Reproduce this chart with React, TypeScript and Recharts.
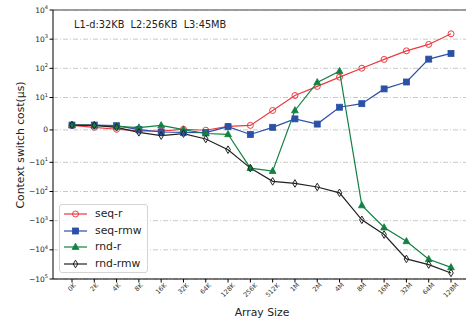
import { LineChart, Line, XAxis, YAxis, CartesianGrid, ReferenceLine } from "recharts";

// array sizes on the x axis
const sizes = ['0K', '2K', '4K', '8K', '16K', '32K', '64K', '128K', '256K', '512K', '1M', '2M', '4M', '8M', '16M', '32M', '64M', '128M'];

// context switch cost in µs
const seqR = [1.4, 0.8, 0.2, -0.3, -0.4, 0.2, -0.1, 1.1, 1.4, 6.0, 11.7, 24, 50, 101, 202, 398, 660, 1530];
const seqRmw = [1.5, 1.5, 1.3, 0.1, -0.65, -0.75, -0.85, 1.0, -1.4, 0.8, 3.4, 1.8, 7.0, 8.1, 19.7, 34, 207, 324];
const rndR = [1.5, 1.4, 1.1, 0.7, 1.4, 0.1, -1.1, -1.35, -15.8, -20, 6.0, 33, 80, -300, -1720, -5100, -21000, -40000];
const rndRmw = [1.5, 1.4, 0.8, -0.75, -1.75, -1.15, -2.8, -6.1, -15.8, -45, -53, -70, -111, -935, -3000, -20500, -32000, -62000];

const yTickValues = [1e4, 1e3, 1e2, 10, 0, -10, -1e2, -1e3, -1e4, -1e5];

// symlog like matplotlib: linthresh=10, linscale=1
const LINTHRESH = 10;
const LINSCALE = 1 / (1 - 1 / 10);
const symlog = (v: number) => {
  const a = Math.abs(v);
  if (a <= LINTHRESH) return (v / LINTHRESH) * LINSCALE;
  return Math.sign(v) * (Math.log10(a / LINTHRESH) + LINSCALE);
};

const series = [
  { key: 'seqR', name: 'seq-r', values: seqR, color: '#ec3a40', marker: 'circle' },
  { key: 'seqRmw', name: 'seq-rmw', values: seqRmw, color: '#2b50a6', marker: 'square' },
  { key: 'rndR', name: 'rnd-r', values: rndR, color: '#128242', marker: 'triangle' },
  { key: 'rndRmw', name: 'rnd-rmw', values: rndRmw, color: '#222222', marker: 'diamond' },
];

const data = sizes.map((s, i) => {
  const row: any = { size: s };
  series.forEach(sr => { row[sr.key] = symlog(sr.values[i]); });
  return row;
});

const FONT = '"DejaVu Sans", sans-serif';

function Marker({ type, cx, cy, color }: any) {
  if (cx == null || cy == null) return null;
  if (type === 'circle') {
    return <circle cx={cx} cy={cy} r={3} fill="none" stroke={color} strokeWidth={1} />;
  }
  if (type === 'square') {
    return <rect x={cx - 3} y={cy - 3} width={6} height={6} fill={color} stroke={color} strokeWidth={0.8} />;
  }
  if (type === 'triangle') {
    return <path d={`M${cx},${cy - 3.8} L${cx + 3.4},${cy + 2.4} L${cx - 3.4},${cy + 2.4} Z`} fill={color} stroke={color} strokeWidth={0.8} />;
  }
  return <path d={`M${cx},${cy - 3.8} L${cx + 2.3},${cy} L${cx},${cy + 3.8} L${cx - 2.3},${cy} Z`} fill="none" stroke={color} strokeWidth={1} />;
}

const YTick = ({ x, y, payload }: any) => {
  const v = yTickValues.find(t => Math.abs(symlog(t) - payload.value) < 1e-6);
  if (v === undefined) return null;
  if (v === 0) {
    return <text x={x} y={y} textAnchor="end" dominantBaseline="central" fontSize={7.5} fontFamily={FONT} fill="#222">0</text>;
  }
  const exp = Math.round(Math.log10(Math.abs(v)));
  return (
    <text x={x} y={y} textAnchor="end" dominantBaseline="central" fontSize={7.5} fontFamily={FONT} fill="#222">
      {v < 0 ? '\u221210' : '10'}
      <tspan dy={-3} fontSize={5}>{exp}</tspan>
    </text>
  );
};

const XTick = ({ x, y, payload }: any) => {
  const fs = 6.5;
  const w = String(payload.value).length * 0.66 * fs;
  const cy = y + (w + 0.75 * fs) * 0.3535;
  return (
    <g transform={`translate(${x},${cy}) rotate(-45)`}>
      <text x={0} y={0} textAnchor="middle" dominantBaseline="central" fontSize={fs} fontFamily={FONT} fill="#333">
        {payload.value}
      </text>
    </g>
  );
};

const LegendBox = () => (
  <div style={{
    position: 'absolute', left: 59, top: 204,
    width: 89, height: 69, boxSizing: 'border-box', border: '1px solid #d4d4d4', borderRadius: 3,
    background: 'rgba(255,255,255,0.85)', paddingTop: 1, fontFamily: FONT, fontSize: 10.8, color: '#222',
  }}>
    {series.map(sr => (
      <div key={sr.key} style={{ display: 'flex', alignItems: 'center', height: 16.5, lineHeight: '16.5px' }}>
        <svg width={32} height={16} style={{ marginLeft: 3, flexShrink: 0 }}>
          <line x1={1} y1={8} x2={24} y2={8} stroke={sr.color} strokeWidth={1.2} />
          <Marker type={sr.marker} cx={12.5} cy={8} color={sr.color} />
        </svg>
        <span>{sr.name}</span>
      </div>
    ))}
  </div>
);

export default function App() {
  const yMin = symlog(-1e5);
  const yMax = symlog(1e4);
  return (
    <div style={{ position: 'absolute', left: 0, top: 0, width: 466, height: 322, overflow: 'hidden', background: '#fff' }}>
      <LineChart width={480} height={322} data={data} margin={{ top: 10, right: 10, bottom: 0, left: 0 }}>
        <CartesianGrid vertical={false} stroke="#c8c8c8" strokeDasharray="5 2 1 2" />
        <ReferenceLine y={yMax} stroke="#808080" strokeWidth={1.6} />
        <XAxis
          dataKey="size"
          height={43}
          padding={{ left: 19, right: 19 }}
          tick={<XTick />}
          tickSize={3.5}
          tickMargin={0}
          interval={0}
          axisLine={{ stroke: '#000', strokeWidth: 1 }}
          tickLine={{ stroke: '#000' }}
        />
        <YAxis
          type="number"
          width={53}
          domain={[yMin, yMax]}
          ticks={yTickValues.map(symlog)}
          allowDataOverflow
          interval={0}
          tick={<YTick />}
          tickSize={3.5}
          tickMargin={1.5}
          axisLine={{ stroke: '#000', strokeWidth: 1 }}
          tickLine={{ stroke: '#000' }}
        />
        {series.map(sr => (
          <Line
            key={sr.key}
            dataKey={sr.key}
            name={sr.name}
            stroke={sr.color}
            strokeWidth={1.2}
            isAnimationActive={false}
            dot={(p: any) => <Marker key={`${sr.key}-${p.index}`} type={sr.marker} cx={p.cx} cy={p.cy} color={sr.color} />}
            activeDot={false}
          />
        ))}
      </LineChart>
      <LegendBox />
      <div style={{ position: 'absolute', left: 74, top: 24, transform: 'translateY(-50%)', fontFamily: FONT, fontSize: 9.8, color: '#222', whiteSpace: 'pre' }}>
        L1-d:32KB  L2:256KB  L3:45MB
      </div>
      <div style={{ position: 'absolute', left: 262, top: 312, transform: 'translate(-50%,-50%)', fontFamily: FONT, fontSize: 10.8, color: '#222', whiteSpace: 'nowrap' }}>
        Array Size
      </div>
      <div style={{ position: 'absolute', left: 20, top: 145, transform: 'translate(-50%,-50%) rotate(-90deg)', fontFamily: FONT, fontSize: 10.8, color: '#222', whiteSpace: 'nowrap' }}>
        Context switch cost(µs)
      </div>
    </div>
  );
}
